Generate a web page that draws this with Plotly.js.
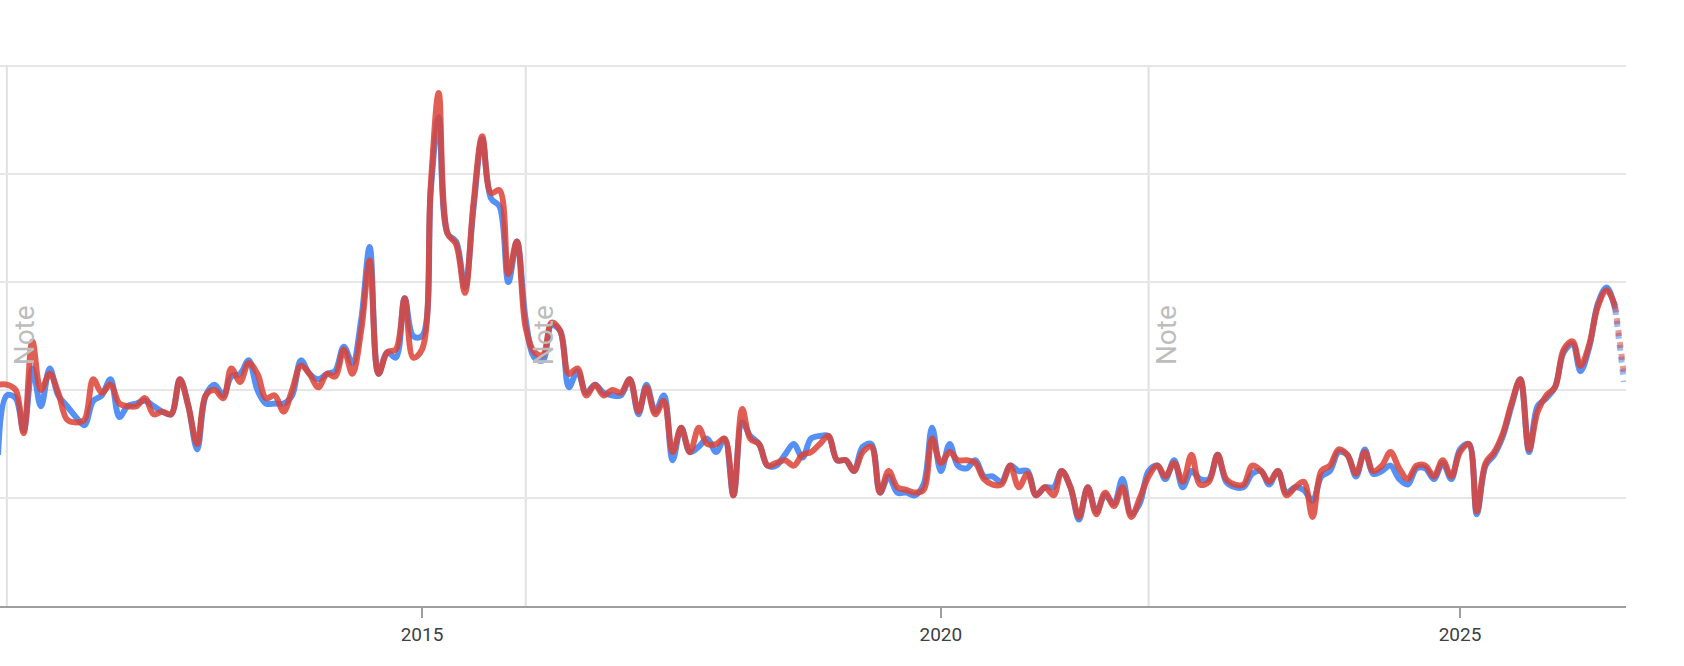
<!DOCTYPE html>
<html>
<head>
<meta charset="utf-8">
<script src="https://cdn.plot.ly/plotly-3.0.1.min.js"></script>
<style>
  html, body { margin: 0; padding: 0; background: #ffffff; }
  #chart { width: 1684px; height: 666px; }
</style>
</head>
<body>
<div id="chart"></div>
<script>
// monthly points, Dec 2010 .. Aug 2026 (last month is partial)
var months = [
    "2010-12-01",
    "2011-01-01", "2011-02-01", "2011-03-01", "2011-04-01", "2011-05-01", "2011-06-01", "2011-07-01", "2011-08-01", "2011-09-01", "2011-10-01", "2011-11-01", "2011-12-01",
    "2012-01-01", "2012-02-01", "2012-03-01", "2012-04-01", "2012-05-01", "2012-06-01", "2012-07-01", "2012-08-01", "2012-09-01", "2012-10-01", "2012-11-01", "2012-12-01",
    "2013-01-01", "2013-02-01", "2013-03-01", "2013-04-01", "2013-05-01", "2013-06-01", "2013-07-01", "2013-08-01", "2013-09-01", "2013-10-01", "2013-11-01", "2013-12-01",
    "2014-01-01", "2014-02-01", "2014-03-01", "2014-04-01", "2014-05-01", "2014-06-01", "2014-07-01", "2014-08-01", "2014-09-01", "2014-10-01", "2014-11-01", "2014-12-01",
    "2015-01-01", "2015-02-01", "2015-03-01", "2015-04-01", "2015-05-01", "2015-06-01", "2015-07-01", "2015-08-01", "2015-09-01", "2015-10-01", "2015-11-01", "2015-12-01",
    "2016-01-01", "2016-02-01", "2016-03-01", "2016-04-01", "2016-05-01", "2016-06-01", "2016-07-01", "2016-08-01", "2016-09-01", "2016-10-01", "2016-11-01", "2016-12-01",
    "2017-01-01", "2017-02-01", "2017-03-01", "2017-04-01", "2017-05-01", "2017-06-01", "2017-07-01", "2017-08-01", "2017-09-01", "2017-10-01", "2017-11-01", "2017-12-01",
    "2018-01-01", "2018-02-01", "2018-03-01", "2018-04-01", "2018-05-01", "2018-06-01", "2018-07-01", "2018-08-01", "2018-09-01", "2018-10-01", "2018-11-01", "2018-12-01",
    "2019-01-01", "2019-02-01", "2019-03-01", "2019-04-01", "2019-05-01", "2019-06-01", "2019-07-01", "2019-08-01", "2019-09-01", "2019-10-01", "2019-11-01", "2019-12-01",
    "2020-01-01", "2020-02-01", "2020-03-01", "2020-04-01", "2020-05-01", "2020-06-01", "2020-07-01", "2020-08-01", "2020-09-01", "2020-10-01", "2020-11-01", "2020-12-01",
    "2021-01-01", "2021-02-01", "2021-03-01", "2021-04-01", "2021-05-01", "2021-06-01", "2021-07-01", "2021-08-01", "2021-09-01", "2021-10-01", "2021-11-01", "2021-12-01",
    "2022-01-01", "2022-02-01", "2022-03-01", "2022-04-01", "2022-05-01", "2022-06-01", "2022-07-01", "2022-08-01", "2022-09-01", "2022-10-01", "2022-11-01", "2022-12-01",
    "2023-01-01", "2023-02-01", "2023-03-01", "2023-04-01", "2023-05-01", "2023-06-01", "2023-07-01", "2023-08-01", "2023-09-01", "2023-10-01", "2023-11-01", "2023-12-01",
    "2024-01-01", "2024-02-01", "2024-03-01", "2024-04-01", "2024-05-01", "2024-06-01", "2024-07-01", "2024-08-01", "2024-09-01", "2024-10-01", "2024-11-01", "2024-12-01",
    "2025-01-01", "2025-02-01", "2025-03-01", "2025-04-01", "2025-05-01", "2025-06-01", "2025-07-01", "2025-08-01", "2025-09-01", "2025-10-01", "2025-11-01", "2025-12-01",
    "2026-01-01", "2026-02-01", "2026-03-01", "2026-04-01", "2026-05-01", "2026-06-01", "2026-07-01", "2026-08-01"
];

var blueValues = [
    28,
    39, 38.5, 32.5, 44, 37, 44, 39, 37, 35, 33.5, 38, 39,
    42, 35, 37, 37.5, 38, 37, 36, 35.5, 42, 37, 29, 39,
    41, 39, 42.5, 43, 45.5, 40, 37.5, 37.5, 37.5, 39, 45.5, 43,
    42, 43, 43.5, 48, 45, 53, 66.5, 43, 47, 46, 57, 50,
    50, 77, 90.5, 69, 67.5, 59, 73.5, 86.5, 75.5, 74, 60, 67.5,
    53, 46, 45.5, 52, 51, 40.5, 43.5, 39.5, 41, 39.5, 39, 39,
    42, 35.5, 41, 36, 39, 27, 33, 28.5, 29.5, 31, 28.5, 31,
    20.5, 34, 31.5, 30, 26, 26, 28, 30, 27.5, 31, 31.5, 31.5,
    27, 27, 25, 29.5, 30, 21, 24, 21, 21, 20.5, 22.5, 33,
    25, 30, 26, 25.5, 27, 24, 24, 23, 26, 25, 25, 20.5,
    22, 22, 25, 22, 16, 22, 17.5, 20.5, 19, 23.5, 17, 19,
    25, 26, 23.5, 27, 22, 25, 23.5, 23.5, 28, 23, 22, 22,
    24.5, 25, 22.5, 25, 21, 22, 21.5, 19.5, 24, 25, 28.5, 28,
    24, 29, 24.5, 25, 26, 23.5, 22.5, 25.5, 25.5, 23.5, 26.5, 23.5,
    29, 30, 17, 26, 28, 31.5, 37, 42, 28.5, 37, 38.5, 40.5,
    47, 48.5, 43.5, 48, 56, 59, 55, 41.5
];

var redValues = [
    41,
    41, 40, 32, 49, 40, 43, 39.5, 34.5, 34, 34.5, 42, 39.5,
    41, 37.5, 37, 37, 38.5, 35.5, 36, 35.5, 42, 37, 30, 39,
    40, 38.5, 44, 41.5, 45, 43, 38.5, 39, 36, 40, 44.5, 43,
    40.5, 43, 42.5, 47.5, 43, 51, 64, 43, 47, 47.5, 57, 46,
    47.5, 78, 95, 69, 67, 58, 74.5, 87, 76.5, 77, 61.5, 67.5,
    51.5, 47, 46.5, 52.5, 51, 43, 44, 39, 41, 39, 40, 39.5,
    42, 36, 40.5, 35.5, 38, 28.5, 33, 28.5, 33, 30, 30, 31,
    20.5, 36.5, 31, 30, 26, 26.5, 27, 26, 28, 28.5, 30, 31.5,
    27, 27, 25, 28.5, 29.5, 21, 25, 22, 21.5, 21, 21.5, 31,
    26.5, 28.5, 27, 27, 26.5, 23.5, 22.5, 22.5, 26, 22, 24.5, 20.5,
    22, 20.5, 25, 22, 16.5, 22, 17, 21, 18.5, 22, 16.5, 20,
    24, 26, 24, 26.5, 23, 28, 22.5, 23, 28, 23.5, 22.5, 22.5,
    26, 25, 23, 25, 20.5, 22, 23, 16.5, 25, 26, 29, 28,
    24.5, 28.5, 25, 26, 28.5, 25.5, 23.5, 26, 26, 24, 27, 24,
    28.5, 30, 17.5, 26.5, 28.5, 32, 37.5, 42, 29, 36, 39, 40.5,
    47.5, 49, 44.5, 48.5, 55.5, 58.5, 55.5, 43
];

var noteDates = ["2011-01-01", "2016-01-01", "2022-01-01"];
var tickDates = ["2015-01-01", "2020-01-01", "2025-01-01"];
var tickLabels = ["2015", "2020", "2025"];

// the last month is incomplete, drawn dotted
var full = months.length - 1;

function lineTrace(xs, ys, color, dash) {
    return {
        x: xs,
        y: ys,
        mode: "lines",
        type: "scatter",
        hoverinfo: "skip",
        line: { color: color, width: 6, shape: "spline", smoothing: 1, dash: dash },
    };
}

var traces = [
    lineTrace(months.slice(0, full), blueValues.slice(0, full), "rgba(66,133,244,0.9)", "solid"),
    lineTrace(months.slice(full - 1), blueValues.slice(full - 1), "rgba(66,133,244,0.55)", "dot"),
    lineTrace(months.slice(0, full), redValues.slice(0, full), "rgba(219,68,55,0.86)", "solid"),
    lineTrace(months.slice(full - 1), redValues.slice(full - 1), "rgba(219,68,55,0.55)", "dot"),
];

var shapes = noteDates.map(function (d) {
    return {
        type: "line",
        xref: "x",
        yref: "paper",
        x0: d,
        x1: d,
        y0: 0,
        y1: 1,
        layer: "below",
        line: { color: "#e0e0e0", width: 2 },
    };
});

var annotations = noteDates.map(function (d) {
    return {
        x: d,
        xref: "x",
        y: 0.5,
        yref: "paper",
        text: "Note",
        textangle: -90,
        showarrow: false,
        xanchor: "center",
        yanchor: "middle",
        xshift: 18,
        font: { family: "Roboto, sans-serif", size: 28, color: "#bdbdbd" },
    };
});

var layout = {
    width: 1684,
    height: 666,
    showlegend: false,
    paper_bgcolor: "#ffffff",
    plot_bgcolor: "#ffffff",
    margin: { l: 0, r: 58, t: 65, b: 60, pad: 0 },
    xaxis: {
        type: "date",
        range: ["2010-12-08", "2026-08-08"],
        showgrid: false,
        zeroline: false,
        showline: true,
        linecolor: "#9e9e9e",
        linewidth: 2,
        ticks: "outside",
        ticklen: 10,
        tickwidth: 2,
        tickcolor: "#9e9e9e",
        tickmode: "array",
        tickvals: tickDates,
        ticktext: tickLabels,
        tickfont: { family: "Roboto, sans-serif", size: 19, color: "#3c4043" },
        fixedrange: true,
    },
    yaxis: {
        range: [0, 100.2],
        dtick: 20,
        showticklabels: false,
        showgrid: true,
        gridcolor: "#e6e6e6",
        gridwidth: 2,
        zeroline: false,
        showline: false,
        fixedrange: true,
    },
    shapes: shapes,
    annotations: annotations,
};

Plotly.newPlot("chart", traces, layout, { staticPlot: true });
</script>
</body>
</html>
